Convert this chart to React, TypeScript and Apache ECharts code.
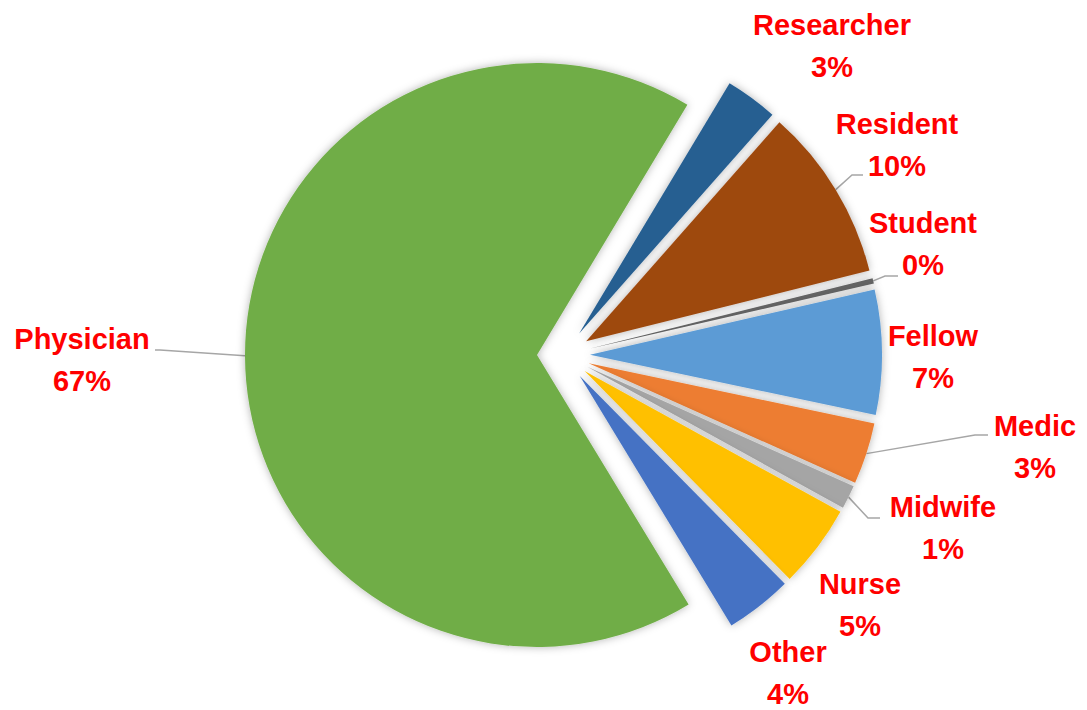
import React, { useEffect, useRef } from "react";
import * as echarts from "echarts";

const categories = ["Researcher", "Resident", "Student", "Fellow", "Medic", "Midwife", "Nurse", "Other", "Physician"];
const values = [2.9, 9.6, 0.3, 6.9, 3.4, 1.3, 4.6, 3.7, 67.3];
const colors = ["#255E91", "#9E480E", "#636363", "#5B9BD5", "#ED7D31", "#A5A5A5", "#FFC000", "#4472C4", "#70AD47"];
const showLeader = [false, true, true, false, true, true, false, false, true];
// label block centres (layout)
const labelCenters: number[][] = [
  [832, 46], [897, 145], [923, 244], [933, 357], [1035, 447], [943, 528], [860, 605], [788, 673], [82, 360],
];
// leader line bend point and end x
const leaderEnds: (number[] | null)[] = [
  null, [852, 175, 863], [885, 276, 898], null, [975, 435, 988], [868, 518, 880], null, null, [160, 350, 155],
];

const CX = 563.5;
const CY = 355;
const R = 292;
const EXPLODE = 26.5;

export default function App() {
  const ref = useRef<HTMLDivElement>(null);
  useEffect(() => {
    if (!ref.current) return;
    const chart = echarts.init(ref.current, undefined, { renderer: "svg" });
    const base = {
      type: "pie",
      center: [CX, CY],
      radius: R,
      startAngle: 59,
      clockwise: true,
      avoidLabelOverlap: false,
      emphasis: { disabled: true },
    };
    chart.setOption({
      animation: false,
      backgroundColor: "#ffffff",
      series: [
        {
          ...base,
          selectedMode: "multiple",
          selectedOffset: EXPLODE,
          itemStyle: { shadowBlur: 8, shadowColor: "rgba(0,0,0,0.3)" },
          label: { show: false },
          labelLine: { show: false },
          data: categories.map((name, i) => ({
            name,
            value: values[i],
            selected: true,
            itemStyle: { color: colors[i] },
            select: { itemStyle: { color: colors[i], borderWidth: 0 } },
          })),
        },
        {
          ...base,
          silent: true,
          itemStyle: { color: "rgba(0,0,0,0)" },
          label: {
            show: true,
            position: "outside",
            formatter: (p: any) => `${p.name}\n${Math.round(p.percent)}%`,
            color: "#FF0000",
            fontFamily: "'Liberation Sans', Arial, sans-serif",
            fontWeight: "bold",
            fontSize: 29,
            lineHeight: 42,
            align: "center",
          },
          labelLine: { show: true, lineStyle: { color: "#A6A6A6", width: 1.5 } },
          labelLayout: (params: any) => {
            const i = params.dataIndex;
            const c = labelCenters[i];
            const res: any = { x: c[0], y: c[1], align: "center", verticalAlign: "middle" };
            const le = leaderEnds[i];
            if (le && params.labelLinePoints) {
              const p = params.labelLinePoints[0];
              const dx = p[0] - CX;
              const dy = p[1] - CY;
              const len = Math.sqrt(dx * dx + dy * dy) || 1;
              const s = (R + EXPLODE) / len;
              res.labelLinePoints = [[CX + dx * s, CY + dy * s], [le[0], le[1]], [le[2], le[1]]];
            }
            return res;
          },
          data: categories.map((name, i) => ({
            name,
            value: values[i],
            labelLine: { show: showLeader[i] },
          })),
        },
      ],
    });
    return () => chart.dispose();
  }, []);
  return <div ref={ref} style={{ position: "absolute", left: 0, top: 0, width: 1087, height: 710 }} />;
}
